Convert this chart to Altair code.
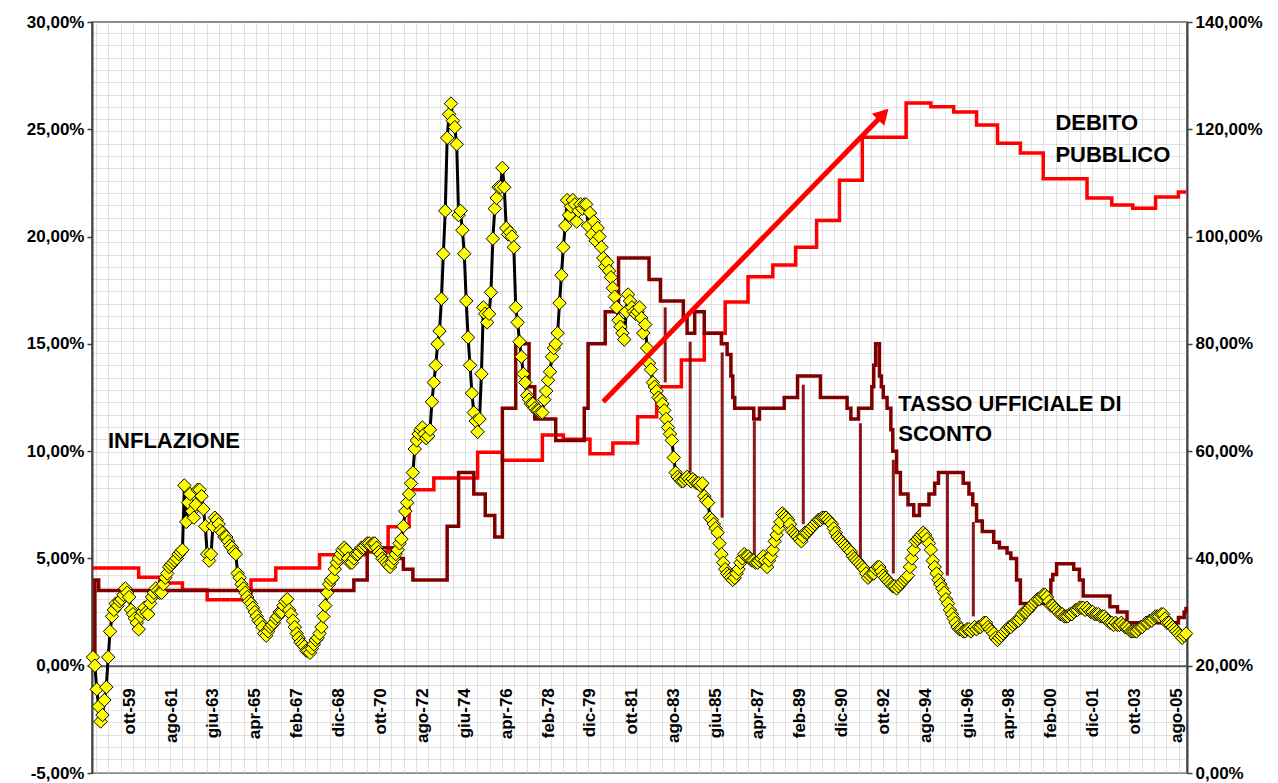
import altair as alt
import pandas as pd
import numpy as np

# ---------------- data ----------------
# monthly index m: 0 = mar-1958 ... 574 = gen-2006
X_LABELS = ["ott-59", "ago-61", "giu-63", "apr-65", "feb-67", "dic-68", "ott-70",
            "ago-72", "giu-74", "apr-76", "feb-78", "dic-79", "ott-81", "ago-83",
            "giu-85", "apr-87", "feb-89", "dic-90", "ott-92", "ago-94", "giu-96",
            "apr-98", "feb-00", "dic-01", "ott-03", "ago-05"]
FIRST_LABEL_M = 19
LABEL_STEP = 22
N_MONTHS = 575

# Inflazione (%), monthly
INFL_1958_61 = [0.4, 0.0, -1.1, -1.9, -2.6, -2.3, -1.6, -1.0, 0.4, 1.6, 2.3, 2.6,
                2.9, 2.8, 3.0, 3.1, 3.3, 3.6, 3.4, 3.2, 2.6, 2.4, 2.2, 2.0,
                1.7, 2.3, 2.5, 2.7, 2.5, 2.4, 2.9, 3.2, 3.4, 3.6, 3.5, 3.4,
                3.4, 3.8, 4.1, 4.3, 4.6, 4.7, 4.8, 4.9, 5.0, 5.2, 5.3, 5.4]
INFL_1962_68 = [8.4, 6.7, 7.6, 8.0, 7.2, 6.9, 7.5, 8.2, 8.2, 7.9, 7.3, 6.5,
                5.2, 4.9, 5.2, 6.5, 6.9, 6.8, 6.6, 6.3, 6.2, 6.0, 6.0, 5.8,
                5.6, 5.5, 5.3, 5.2, 4.3, 4.1, 3.8, 3.6, 3.4, 3.2, 3.0, 2.9,
                2.7, 2.5, 2.3, 2.1, 2.0, 1.8, 1.5, 1.4, 1.6, 1.8, 1.9, 2.0,
                2.2, 2.3, 2.5, 2.5, 2.8, 3.0, 3.1, 2.6, 2.4, 2.1, 1.8, 1.5,
                1.3, 1.1, 1.0, 0.9, 0.7, 0.7, 0.6, 0.8, 1.0, 1.2, 1.3, 1.5,
                1.8, 2.3, 2.8, 3.4]
INFL_1968_78 = [3.8, 4.0, 4.1, 4.5, 4.8, 5.0, 5.2, 5.4,
                5.5, 5.4, 5.0, 4.8, 4.8, 5.0, 5.2, 5.2, 5.3, 5.5, 5.5, 5.6,
                5.7, 5.7, 5.6, 5.7, 5.7, 5.5, 5.3, 5.2, 5.0, 4.9, 4.8, 4.7,
                4.6, 4.8, 5.0, 5.2, 5.4, 5.7, 5.9, 6.5, 7.2, 7.6, 8.0, 8.5,
                9.0, 10.1, 10.5, 10.8, 11.0, 11.1, 10.8, 10.6, 10.7, 11.0, 12.3, 13.2,
                14.0, 15.0, 15.6, 17.1, 19.2, 21.2, 24.6, 25.7, 26.2, 25.4, 25.1, 24.3,
                21.0, 21.2, 20.3, 19.2, 17.0, 15.3, 14.0, 12.7, 11.8, 11.4, 10.9, 11.5,
                13.6, 16.7, 16.4, 16.0, 16.4, 17.4, 19.9, 21.3, 21.8, 22.3, 22.3, 23.2,
                22.3, 20.4, 20.1, 20.2, 20.0, 19.5, 16.7, 16.0, 15.1, 14.4, 13.6, 13.2,
                12.6, 12.4, 12.2, 12.2, 12.0, 11.9, 11.9, 11.8, 11.8, 12.4, 12.8, 13.3,
                13.7, 14.4, 14.8, 15.0, 15.5, 16.9, 18.2]
INFL_1978_92 = [19.5, 20.5, 21.7, 21.0, 21.4, 21.7, 21.5, 20.7, 21.2, 21.5, 21.3, 21.5,
                21.5, 20.5, 21.1, 20.1, 20.7, 19.8, 20.4, 20.0, 19.5, 19.0, 18.6, 18.8,
                18.4, 18.1, 17.6, 17.2, 16.7, 16.1, 15.8, 15.5, 15.2, 16.5, 17.3, 17.0,
                16.7, 16.5, 16.4, 16.5, 16.7, 16.2, 15.5, 15.9, 14.8, 14.1, 13.8, 13.2,
                13.0, 12.8, 12.5, 12.4, 12.2, 11.9, 11.5, 11.1, 10.8, 10.5, 9.7, 9.0,
                8.8, 8.7, 8.6, 8.6, 8.7, 8.8, 8.7, 8.6, 8.7, 8.6, 8.5, 8.5,
                8.4, 8.5, 7.9, 7.7, 7.6, 6.9, 6.8, 6.6, 6.4, 6.2, 5.7, 5.2,
                4.8, 4.5, 4.3, 4.2, 4.1, 4.0, 4.1, 4.3, 4.5, 4.8, 5.0, 5.2,
                5.1, 5.1, 5.0, 4.9, 4.9, 4.8, 4.8, 4.9, 5.0, 5.1, 4.9, 4.6,
                4.9, 5.1, 5.4, 5.8, 6.1, 6.4, 6.7, 7.1, 7.0, 6.9, 6.8, 6.6,
                6.3, 6.2, 6.1, 6.0, 5.9, 5.8, 6.0, 6.2, 6.2, 6.3, 6.4, 6.5,
                6.6, 6.7, 6.8, 6.8, 6.9, 6.9, 6.9, 6.8, 6.7, 6.6, 6.4, 6.2,
                6.0, 5.9, 5.8, 5.7, 5.6, 5.5, 5.4, 5.3, 5.1, 5.0, 4.9, 4.8,
                4.7, 4.6, 4.5, 4.3, 4.1, 4.2, 4.3, 4.3, 4.5, 4.6]
INFL_1992_06 = [4.6, 4.4, 4.2, 4.1, 4.0, 3.9, 3.8, 3.7, 3.7, 3.6, 3.7, 3.8,
                3.9, 4.0, 4.1, 4.2, 4.6, 5.0, 5.4, 5.8, 5.9, 6.0, 6.1, 6.2,
                6.1, 5.9, 5.7, 5.4, 4.9, 4.6, 4.3, 4.0, 3.8, 3.6, 3.4, 3.1,
                2.9, 2.6, 2.4, 2.2, 2.0, 1.8, 1.7, 1.7, 1.6, 1.6, 1.7, 1.7,
                1.6, 1.7, 1.8, 1.7, 1.8, 1.8, 1.9, 2.0, 2.0, 1.8, 1.7, 1.6,
                1.5, 1.3, 1.2, 1.3, 1.4, 1.5, 1.6, 1.7, 1.8, 1.8, 1.9, 2.0,
                2.1, 2.1, 2.2, 2.4, 2.5, 2.5, 2.6, 2.7, 2.8, 2.9, 3.0, 3.1,
                3.1, 3.2, 3.3, 3.3, 3.2, 3.0, 2.8, 2.8, 2.7, 2.6, 2.5, 2.4,
                2.4, 2.3, 2.3, 2.3, 2.4, 2.4, 2.5, 2.6, 2.6, 2.7, 2.7, 2.7,
                2.6, 2.7, 2.6, 2.5, 2.5, 2.4, 2.4, 2.4, 2.3, 2.3, 2.3, 2.2,
                2.1, 2.0, 2.0, 1.9, 2.0, 1.9, 1.9, 2.0, 1.9, 1.8, 1.8, 1.7,
                1.6, 1.6, 1.6, 1.6, 1.7, 1.8, 1.8, 1.9, 2.0, 2.0, 2.1, 2.1,
                2.2, 2.3, 2.3, 2.3, 2.4, 2.4, 2.2, 2.0, 2.0, 1.9, 1.8, 1.7,
                1.6, 1.5, 1.4, 1.3, 1.4, 1.5]

# Tasso ufficiale di sconto (%): month of change -> new value
TUS_M = [0, 1, 3, 137, 144, 157, 163, 168, 186, 192, 200, 206, 211, 215, 222, 229, 232,
         243, 258, 260, 269, 276, 292, 298, 310, 312, 316, 321, 330, 333, 335, 336, 337,
         347, 350, 363, 370, 382, 396, 398, 402, 409, 410, 411, 413, 414, 415, 417, 419,
         420, 422, 424, 428, 431, 434, 439, 442, 444, 457, 460, 462, 464, 467, 473, 476,
         480, 482, 485, 487, 501, 503, 504, 506, 515, 518, 520, 534, 538, 543, 570, 573, 574]
TUS_V = [0.0, 4.0, 3.5, 4.0, 5.5, 5.0, 4.5, 4.0, 6.5, 9.0, 8.0, 7.0, 6.0, 12.0, 15.0, 13.0, 11.5,
         10.5, 12.0, 15.0, 16.5, 19.0, 18.0, 17.0, 16.25, 15.5, 16.5, 15.5, 15.0, 14.5, 13.5, 12.5, 12.0,
         11.5, 12.0, 12.5, 13.5, 12.5, 12.0, 11.5, 12.0, 13.0, 14.0, 15.0, 13.5, 13.0, 12.5, 12.0, 11.0,
         10.0, 9.0, 8.0, 7.5, 7.0, 7.5, 8.0, 8.5, 9.0, 8.5, 8.0, 7.5, 6.75, 6.25, 5.75, 5.5,
         5.25, 5.0, 4.0, 2.9, 3.25, 4.0, 4.25, 4.75, 4.5, 4.0, 3.25, 2.75, 2.5, 2.0, 2.25, 2.5, 2.75]

# Debito pubblico (% PIL, right axis): month of change -> new value
DEBT_M = [0, 24, 35, 47, 60, 83, 96, 119, 144, 155, 166, 179, 202, 215, 236, 247, 261, 273,
          286, 296, 309, 321, 332, 344, 357, 369, 380, 392, 404, 427, 440, 452, 464, 475,
          487, 499, 522, 535, 546, 558, 570, 574]
DEBT_V = [38.2, 36.5, 35.4, 34.1, 32.3, 36.0, 38.2, 40.7, 41.2, 45.9, 52.8, 55.0, 59.8, 58.3,
          63.0, 62.2, 59.5, 61.5, 66.4, 72.0, 77.0, 82.0, 87.8, 92.5, 94.7, 98.0, 103.0, 110.5,
          118.5, 124.9, 124.2, 123.2, 120.8, 117.4, 115.6, 110.8, 107.2, 105.9, 105.3, 107.4,
          108.3, 108.3]

# vertical gap lines (TUS vs inflation): month, top %, bottom %
GAP_M = [300.5, 313.6, 330.4, 347.3, 373.0, 403.0, 420.3, 448.7, 462.3]
GAP_TOP = [16.7, 15.1, 14.6, 11.4, 13.1, 11.3, 9.6, 9.0, 6.7]
GAP_BOT = [13.2, 9.0, 6.9, 5.1, 6.6, 5.0, 4.3, 4.2, 2.3]

# red arrow (month, %)
ARROW_M = [267.9, 415.0]
ARROW_V = [12.3, 25.7]

# text annotations (month, %)
NOTE_TXT = ["INFLAZIONE", "DEBITO", "PUBBLICO", "TASSO UFFICIALE DI", "SCONTO"]
NOTE_M = [7.9, 505.4, 505.4, 422.9, 422.9]
NOTE_V = [10.15, 24.96, 23.47, 11.87, 10.47]

# ---------------- tables ----------------
infl_vals = INFL_1958_61 + INFL_1962_68 + INFL_1968_78 + INFL_1978_92 + INFL_1992_06
assert len(infl_vals) == N_MONTHS
infl = pd.DataFrame({"m": list(range(N_MONTHS)), "v": infl_vals})
tus = pd.DataFrame({"m": TUS_M, "v": TUS_V})
debt = pd.DataFrame({"m": DEBT_M, "v": DEBT_V})
gaps = pd.DataFrame({"m": GAP_M, "top": GAP_TOP, "bot": GAP_BOT})
arrow = pd.DataFrame({"m": ARROW_M, "v": ARROW_V})
head = arrow.tail(1)
notes = pd.DataFrame({"t": NOTE_TXT, "m": NOTE_M, "v": NOTE_V})

# ---------------- styling ----------------
FONT = "Liberation Sans"
XS = alt.Scale(domain=[-0.5, N_MONTHS - 0.5], nice=False, zero=False)
YL = alt.Scale(domain=[-5, 30], nice=False, zero=False)
YR = alt.Scale(domain=[0, 140], nice=False, zero=False)
PCT = "(datum.value < 0 ? '-' : '') + replace(format(abs(datum.value), '.2f'), '.', ',') + '%'"

grid_x = [float(v) for v in np.arange(1.6, N_MONTHS - 0.5, 6.46)]
grid_y = [float(v) for v in np.arange(29.49, -5.0, -0.5738)]

def xq(axis=None):
    return alt.X("m:Q", scale=XS, axis=axis, title=None)

def yl(field="v", axis=None):
    return alt.Y(f"{field}:Q", scale=YL, axis=axis, title=None)

grid = alt.Chart(pd.DataFrame({"m": [0], "v": [0]})).mark_point(opacity=0).encode(
    x=xq(alt.Axis(orient="bottom", grid=True, values=grid_x, labels=False, ticks=False,
                  domain=False, gridColor="#c4c4c4", gridDash=[1, 1], gridWidth=1,
                  title=None)),
    y=yl(axis=alt.Axis(grid=True, values=grid_y, labels=False, ticks=False, domain=False,
                       gridColor="#c4c4c4", gridDash=[1, 1], gridWidth=1, title=None,
                       orient="left")),
)

debt_line = alt.Chart(debt).mark_line(color="#FF0000", strokeWidth=3.5,
                                      interpolate="step-after").encode(
    x=xq(),
    y=alt.Y("v:Q", scale=YR, title=None,
            axis=alt.Axis(orient="right", values=list(range(0, 141, 20)), labelExpr=PCT,
                          grid=False, tickSize=5, tickColor="#404040", tickWidth=1.5,
                          domainColor="#404040", domainWidth=2, labelPadding=3,
                          labelFont=FONT, labelFontSize=17, labelFontWeight="bold",
                          labelColor="black", title=None)),
)

tus_line = alt.Chart(tus).mark_line(color="#800000", strokeWidth=3.5,
                                    interpolate="step-after").encode(x=xq(), y=yl())

gap_rules = alt.Chart(gaps).mark_rule(color="#800000", strokeWidth=3, opacity=0.9).encode(
    x=xq(), y=yl("top"), y2="bot:Q")

infl_line = alt.Chart(infl).mark_line(color="black", strokeWidth=3).encode(x=xq(), y=yl())

label_expr = "[" + ",".join(f"'{s}'" for s in X_LABELS) + f"][round((datum.value-{FIRST_LABEL_M})/{LABEL_STEP})]"
infl_pts = alt.Chart(infl).mark_point(shape="diamond", filled=True, fill="#FFFF00",
                                      stroke="black", strokeWidth=1, size=180,
                                      opacity=1).encode(
    x=xq(alt.Axis(orient="bottom", values=list(range(FIRST_LABEL_M, N_MONTHS, LABEL_STEP)),
                  labelExpr=label_expr, labelAngle=270, labelFont=FONT, labelFontSize=17,
                  labelFontWeight="bold", labelColor="black", labelPadding=22,
                  ticks=False, domain=True, domainColor="#555555", domainWidth=2,
                  offset=-107.3, grid=False, labelOverlap=False, labelFlush=False,
                  title=None)),
    y=yl(axis=alt.Axis(orient="left", values=list(range(-5, 31, 5)), labelExpr=PCT,
                       grid=False, tickSize=5, tickColor="#404040", tickWidth=1.5,
                       domainColor="#404040", domainWidth=2, labelPadding=3,
                       labelFont=FONT, labelFontSize=17, labelFontWeight="bold",
                       labelColor="black", title=None)),
)

arrow_line = alt.Chart(arrow).mark_line(color="#FF0000", strokeWidth=5,
                                        strokeCap="butt").encode(x=xq(), y=yl())
arrow_head = alt.Chart(head).mark_point(shape="triangle-up", filled=True, color="#FF0000",
                                        size=300, angle=44, opacity=1).encode(x=xq(), y=yl())

texts = alt.Chart(notes).mark_text(align="left", baseline="alphabetic", font=FONT,
                                   fontWeight="bold", fontSize=22, color="black").encode(
    x=xq(), y=yl(), text="t:N")

chart = alt.layer(
    grid, debt_line, tus_line, gap_rules, infl_line, infl_pts, arrow_line, arrow_head, texts
).resolve_scale(y="independent").resolve_axis(x="independent", y="independent").properties(
    width=1095, height=751,
    autosize=alt.AutoSizeParams(type="none"),
    padding={"left": 84, "top": 14, "right": 80, "bottom": 10},
    background="white",
).configure_view(stroke="#8c8c8c", strokeWidth=2)

chart.save("out.html", embed_options={"renderer": "svg", "actions": False})
